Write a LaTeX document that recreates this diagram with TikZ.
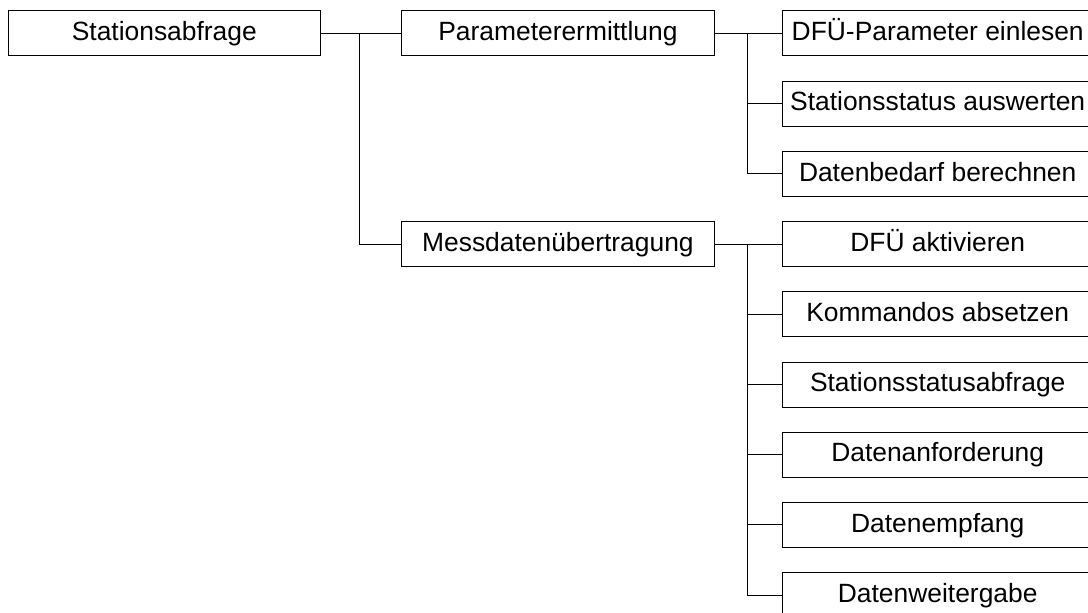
\documentclass[tikz,border=0pt]{standalone}
\usepackage{fontspec}
\setmainfont{Liberation Sans}
\usepackage{tikz}

\begin{document}
\begin{tikzpicture}
    [
    x=0.75pt, y=-0.75pt
    , box/.style = {draw, line width=0.75pt, inner sep=0pt, minimum width=234.4pt, minimum height=33.75pt, text height=15pt, text depth=4.2pt, font=\fontsize{19.8}{24}\selectfont}
    , leaf/.style = {box, minimum width=232.5pt}
    , link/.style = {line width=0.75pt}
    ]
\useasboundingbox (0,0) rectangle (1088,613);

\node[box] (abfrage) at (164.3,33.5) {Stationsabfrage};
\node[box] (param) at (557.9,33.5) {Parameterermittlung};
\node[box] (mess) at (557.9,244.1) {Messdatenübertragung};

\node[leaf] (p1) at (937.7,33.5) {DFÜ-Parameter einlesen};
\node[leaf] (p2) at (937.7,103.7) {Stationsstatus auswerten};
\node[leaf] (p3) at (937.7,173.9) {Datenbedarf berechnen};

\node[leaf] (m1) at (937.7,244.1) {DFÜ aktivieren};
\node[leaf] (m2) at (937.7,314.3) {Kommandos absetzen};
\node[leaf] (m3) at (937.7,384.5) {Stationsstatusabfrage};
\node[leaf] (m4) at (937.7,454.7) {Datenanforderung};
\node[leaf] (m5) at (937.7,524.9) {Datenempfang};
\node[leaf] (m6) at (937.7,595.1) {Datenweitergabe};

% branch points
\coordinate (j1) at (359.3,33.5);
\coordinate (j2) at (747,33.5);
\coordinate (j3) at (747,244.1);

\draw[link] (abfrage) -- (param);
\draw[link] (j1) |- (mess.west);

\draw[link] (param) -- (p1);
\foreach \n in {p2,p3}
    \draw[link] (j2) |- (\n.west);

\draw[link] (mess) -- (m1);
\foreach \n in {m2,m3,m4,m5,m6}
    \draw[link] (j3) |- (\n.west);
\end{tikzpicture}
\end{document}
